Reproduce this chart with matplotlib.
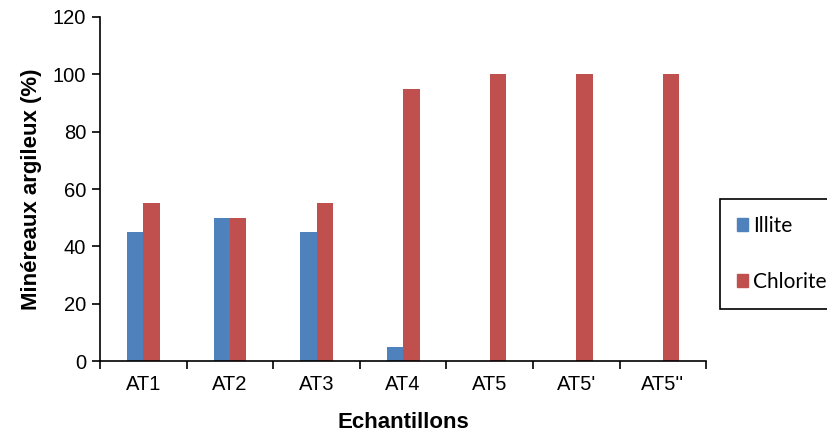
import numpy as np
import matplotlib
matplotlib.use('Agg')
import matplotlib.pyplot as plt
from matplotlib.patches import Patch

categories = ['AT1', 'AT2', 'AT3', 'AT4', 'AT5', "AT5'", "AT5''"]
illite = [45, 50, 45, 5, 0, 0, 0]
chlorite = [55, 50, 55, 95, 100, 100, 100]
yticks = [0, 20, 40, 60, 80, 100, 120]

blue = '#4f81bd'
red = '#c0504d'

plt.rcParams['font.family'] = ['Liberation Sans', 'DejaVu Sans']

fig = plt.figure(figsize=(8.27, 4.34), dpi=100)
ax = fig.add_axes([0.121, 0.168, 0.733, 0.793])

x = np.arange(len(categories))
w = 0.19
ax.bar(x - w/2, illite, w, color=blue)
ax.bar(x + w/2, chlorite, w, color=red)

ax.set_xlim(-0.5, len(categories) - 0.5)
ax.set_ylim(0, 120)
ax.set_yticks(yticks)
ax.set_xticks(x)
ax.set_xticklabels(categories)
ax.set_xticks(np.arange(len(categories) + 1) - 0.5, minor=True)
ax.tick_params(axis='x', which='major', length=0, labelsize=14.5, pad=10)
ax.tick_params(axis='x', which='minor', length=6, width=1.2, direction='out')
ax.tick_params(axis='y', length=6, width=1.2, direction='out', labelsize=14.5, pad=4)
for s in ['top', 'right']:
    ax.spines[s].set_visible(False)
for s in ['left', 'bottom']:
    ax.spines[s].set_linewidth(1.2)

ax.set_ylabel('Minéreaux argileux (%)', fontsize=16, fontweight='bold', labelpad=8)
ax.set_xlabel('Echantillons', fontsize=16, fontweight='bold', labelpad=13)

handles = [Patch(color=blue, label='Illite'), Patch(color=red, label='Chlorite')]
leg = fig.legend(handles=handles, loc='upper left', bbox_to_anchor=(720/827, 1 - 199/434),
                 frameon=True, fancybox=False, edgecolor='black', framealpha=1,
                 prop={'family': 'Lato', 'size': 15}, labelspacing=1.75,
                 handlelength=0.55, handleheight=0.55, handletextpad=0.25,
                 borderpad=0.8, borderaxespad=0)
leg.get_frame().set_linewidth(1.2)

plt.savefig('out.png', dpi=100)
